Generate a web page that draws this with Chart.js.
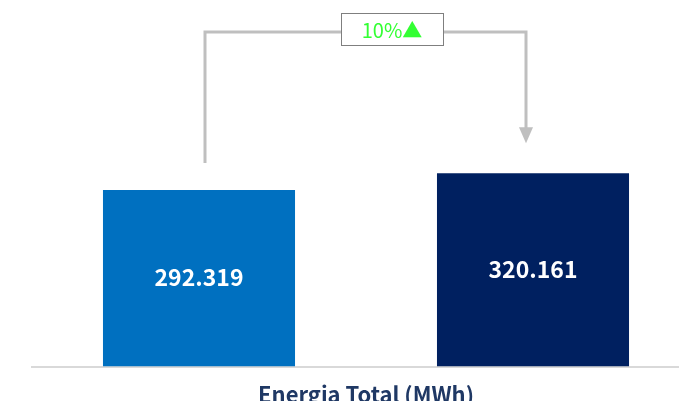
<!DOCTYPE html>
<html>
<head>
<meta charset="utf-8">
<script src="https://cdn.jsdelivr.net/npm/chart.js@4.4.1/dist/chart.umd.min.js"></script>
<style>
    html, body { margin: 0; padding: 0; background: #fff; overflow: hidden; }
    #wrap { width: 700px; height: 408px; }
</style>
</head>
<body>
<div id="wrap"><canvas id="energyChart" width="700" height="408"></canvas></div>
<script>
// chart data
const categories = ['Anterior', 'Atual'];
const energyValues = [292319, 320161];
const barColors = ['#0070C0', '#002060'];
const axisTitle = 'Energia Total (MWh)';

const FONT = '"Noto Sans CJK JP", "Noto Sans", sans-serif';

function formatPt(v) {
    return v.toLocaleString('pt-BR');
}

// labels inside the bars + the comparison bracket on top
const annotatePlugin = {
    id: 'annotate',
    afterDatasetsDraw(chart) {
        const ctx = chart.ctx;
        const bars = chart.getDatasetMeta(0).data;
        const b1 = bars[0], b2 = bars[1];

        ctx.save();
        ctx.fillStyle = '#ffffff';
        ctx.font = 'bold 23px ' + FONT;
        ctx.textAlign = 'center';
        ctx.textBaseline = 'middle';
        bars.forEach((bar, i) => {
            ctx.fillText(formatPt(energyValues[i]), bar.x, (bar.y + bar.base) / 2 - 1);
        });

        // bracket
        const x1 = b1.x + 6, x2 = b2.x - 7;
        const yTop = 32;
        ctx.strokeStyle = '#BFBFBF';
        ctx.lineWidth = 3;
        ctx.beginPath();
        ctx.moveTo(x1, b1.y - 27);
        ctx.lineTo(x1, yTop);
        ctx.lineTo(x2, yTop);
        ctx.lineTo(x2, b2.y - 44);
        ctx.stroke();
        ctx.fillStyle = '#BFBFBF';
        ctx.beginPath();
        ctx.moveTo(x2 - 7, b2.y - 46);
        ctx.lineTo(x2 + 7, b2.y - 46);
        ctx.lineTo(x2, b2.y - 30);
        ctx.closePath();
        ctx.fill();

        // percentage box
        const pct = Math.round((energyValues[1] / energyValues[0] - 1) * 100);
        const bx = 341, by = 13, bw = 102, bh = 32;
        ctx.fillStyle = '#ffffff';
        ctx.fillRect(bx, by, bw, bh);
        ctx.strokeStyle = '#7F7F7F';
        ctx.lineWidth = 1;
        ctx.strokeRect(bx + 0.5, by + 0.5, bw, bh);
        ctx.fillStyle = '#33FF33';
        ctx.font = '20px ' + FONT;
        ctx.fillText(pct + '%' + (pct >= 0 ? '▲' : '▼'), bx + bw / 2, by + bh / 2 + 1);
        ctx.restore();
    }
};

new Chart(document.getElementById('energyChart'), {
    type: 'bar',
    data: {
        labels: categories,
        datasets: [{
            data: energyValues,
            backgroundColor: barColors,
            borderWidth: 0,
            categoryPercentage: 0.575,
            barPercentage: 1
        }]
    },
    options: {
        responsive: false,
        animation: false,
        layout: { padding: { top: 125, left: 32, right: 0, bottom: 0 } },
        plugins: {
            legend: { display: false },
            tooltip: { enabled: false }
        },
        scales: {
            x: {
                grid: { display: false, drawTicks: false },
                border: { color: '#D9D9D9', width: 2 },
                ticks: { display: false },
                title: {
                    display: true,
                    text: axisTitle,
                    color: '#1F3864',
                    font: { family: FONT, size: 22, weight: 'bold' },
                    padding: { top: 15, bottom: 0 }
                }
            },
            y: {
                display: false,
                min: 0,
                max: 400000
            }
        }
    },
    plugins: [annotatePlugin]
});
</script>
</body>
</html>
